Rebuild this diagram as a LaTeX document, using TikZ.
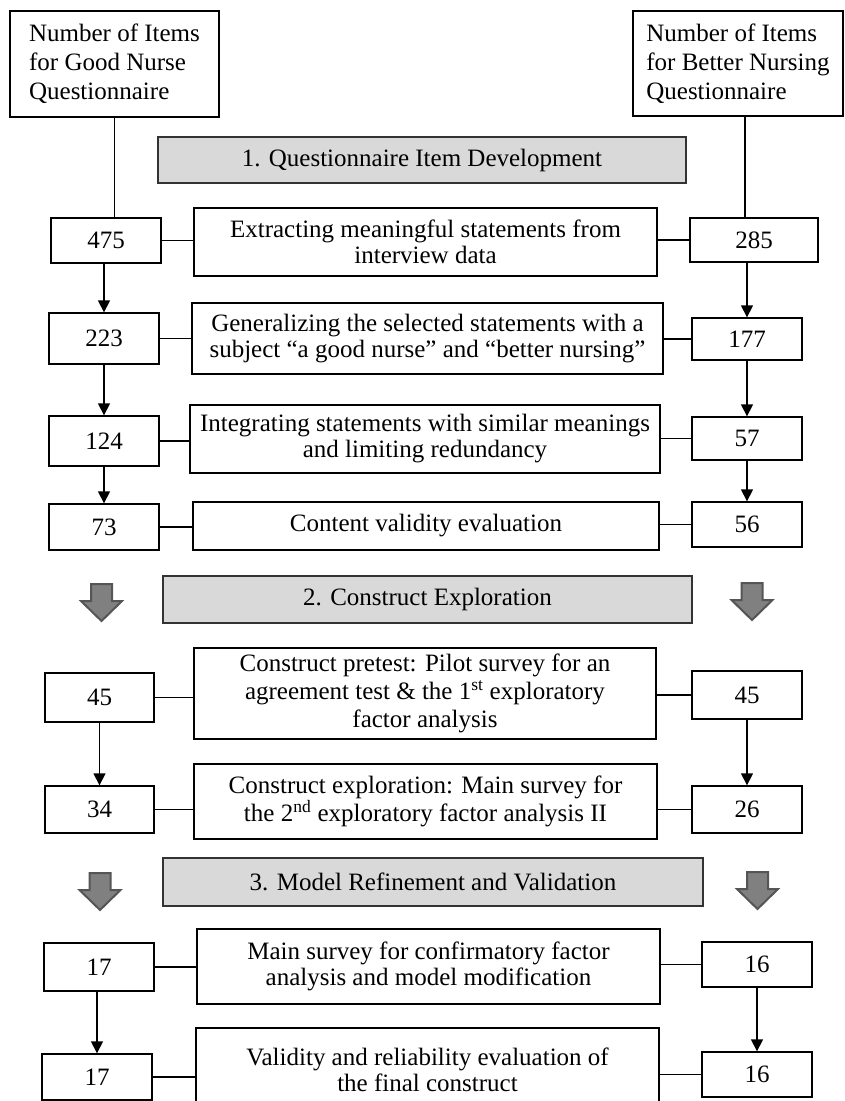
\documentclass[tikz,border=0pt]{standalone}
\usepackage{fontspec}
\setmainfont{Liberation Serif}
\usetikzlibrary{arrows.meta}
\definecolor{phasegray}{HTML}{D9D9D9}
\definecolor{arrowgray}{HTML}{808080}
\definecolor{arrowedge}{HTML}{555555}
\tikzset{
    box/.style = {draw, line width=1.4pt, align=center, inner sep=2pt, font=\fontsize{25}{26}\selectfont},
    headbox/.style = {box, align=left, font=\fontsize{25}{29}\selectfont},
    tallbox/.style = {box, font=\fontsize{25}{28}\selectfont},
    phase/.style = {box, fill=phasegray, draw=black!80, line width=1.8pt},
    num/.style = {box, minimum width=110pt},
    link/.style = {line width=1.8pt},
    stem/.style = {line width=1.2pt},
    flow/.style = {line width=1.6pt, -{Triangle[length=12pt, width=12pt]}},
    phasearrow/.style = {fill=arrowgray, draw=arrowedge, line width=2pt, line join=miter}
}

\begin{document}
\begin{tikzpicture}[x=1pt, y=-1pt]
        \useasboundingbox (0,0) rectangle (844,1101);
        % headers
        \node[headbox, minimum width=209pt, minimum height=106pt] (gnhead) at (114.5,64) {Number of Items\\for Good Nurse\\Questionnaire};
        \node[headbox, minimum width=210pt, minimum height=105pt] (bnhead) at (738,63.5) {Number of Items\\for Better Nursing\\Questionnaire};
        % phases
        \node[phase, minimum width=528pt, minimum height=46pt] (ph1) at (422,160) {1. Questionnaire Item Development};
        \node[phase, minimum width=529pt, minimum height=47pt] (ph2) at (427.5,599.5) {2. Construct Exploration};
        \node[phase, minimum width=540pt, minimum height=48pt] (ph3) at (433,882) {3. Model Refinement and Validation};
        % steps
        \node[box, minimum width=463pt, minimum height=68pt] (extract) at (425.5,242) {Extracting meaningful statements from\\interview data};
        \node[box, minimum width=471pt, minimum height=71pt] (general) at (427.5,338.5) {Generalizing the selected statements with a\\subject “a good nurse” and “better nursing”};
        \node[box, minimum width=470pt, minimum height=68pt] (integrate) at (425,439) {Integrating statements with similar meanings\\and limiting redundancy};
        \node[box, minimum width=466pt, minimum height=48pt] (content) at (426,526) {Content validity evaluation};
        \node[tallbox, minimum width=462pt, minimum height=91pt] (pretest) at (425,693.5) {Construct pretest: Pilot survey for an\\agreement test \& the 1\textsuperscript{st} exploratory\\factor analysis};
        \node[tallbox, minimum width=463pt, minimum height=75pt] (explore) at (425.5,801.5) {Construct exploration: Main survey for\\the 2\textsuperscript{nd} exploratory factor analysis II};
        \node[box, minimum width=463pt, minimum height=75pt] (confirm) at (428.5,966.5) {Main survey for confirmatory factor\\analysis and model modification};
        \node[box, minimum width=463pt, minimum height=84pt] (validity) at (427.5,1070) {Validity and reliability evaluation of\\the final construct};
        % good nurse counts
        \node[num, minimum height=45pt] (gn1) at (106,240.5) {475};
        \node[num, minimum height=51pt] (gn2) at (104,338.5) {223};
        \node[num, minimum height=50pt] (gn3) at (104,441) {124};
        \node[num, minimum height=46pt] (gn4) at (104,527) {73};
        \node[num, minimum width=109pt, minimum height=49pt] (gn5) at (99.5,697.5) {45};
        \node[num, minimum width=109pt, minimum height=47pt] (gn6) at (99.5,809.5) {34};
        \node[num, minimum height=48pt] (gn7) at (99,967) {17};
        \node[num, minimum height=46pt] (gn8) at (97,1077) {17};
        % better nursing counts
        \node[num, minimum width=128pt, minimum height=44pt] (bn1) at (754,240) {285};
        \node[num, minimum height=42pt] (bn2) at (747,339) {177};
        \node[num, minimum height=43pt] (bn3) at (747,438.5) {57};
        \node[num, minimum height=45pt] (bn4) at (747,524.5) {56};
        \node[num, minimum height=48pt] (bn5) at (747,695) {45};
        \node[num, minimum height=47pt] (bn6) at (747,809.5) {26};
        \node[num, minimum height=45pt] (bn7) at (757,964.5) {16};
        \node[num, minimum height=45pt] (bn8) at (757,1074.5) {16};
        % stems from headers
        \path[draw, stem] (gnhead.south) -- (gnhead.south |- gn1.north);
        \path[draw, stem] ([xshift=7pt]bnhead.south) -- ([xshift=7pt]bnhead.south |- bn1.north);
        % links to steps
        \foreach \n/\s in {1/extract, 2/general, 3/integrate, 4/content, 5/pretest, 6/explore, 7/confirm, 8/validity} {
            \path[draw, link] (gn\n) -- (gn\n -| \s.west);
            \path[draw, link] (bn\n) -- (bn\n -| \s.east);
        }
        % flow arrows
        \foreach \a/\b in {1/2, 2/3, 3/4, 5/6, 7/8} {
            \path[draw, flow] (gn\a.south -| gn\b) -- (gn\b.north);
            \path[draw, flow] (bn\a.south -| bn\b) -- (bn\b.north);
        }
        % phase arrows
        \foreach \x/\y in {101.5/584, 752/583, 100/873, 757.5/872}
            \path[phasearrow] (\x,\y) ++(-10.5,0) -- ++(21,0) -- ++(0,17) -- ++(10,0) -- ++(-20.5,20) -- ++(-20.5,-20) -- ++(10,0) -- cycle;
    \end{tikzpicture}
\end{document}
